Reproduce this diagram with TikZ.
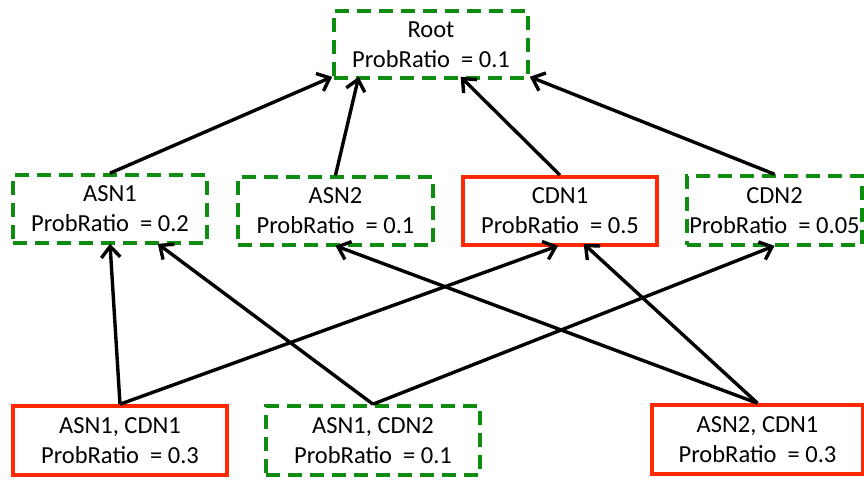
\documentclass[tikz,border=0pt]{standalone}
\usepackage{fontspec}
\setmainfont{Carlito}
\usetikzlibrary{arrows.meta,calc}

\definecolor{boxgreen}{RGB}{16,140,16}
\definecolor{boxred}{RGB}{255,40,0}

\tikzset{
  prob/.style={rectangle, inner sep=0pt, align=center,
    font=\fontsize{24.5}{30}\selectfont, text=black},
  okbox/.style={prob, draw=boxgreen, line width=3.6pt,
    dash pattern=on 14pt off 8pt},
  hotbox/.style={prob, draw=boxred, line width=3.6pt},
  link/.style={draw=black, line width=3.4pt,
    -{Straight Barb[length=11pt,width=19pt]}},
}

\begin{document}
\begin{tikzpicture}[x=1pt,y=-1pt]
\useasboundingbox (0,0) rectangle (864,479);

% top level
\node[okbox, minimum width=194pt, minimum height=67pt] (root) at (431,44.5)
  {Root\\ProbRatio\ \ = 0.1};

% middle level
\node[okbox, minimum width=194pt, minimum height=68pt] (asn1) at (110,209)
  {ASN1\\ProbRatio\ \ = 0.2};
\node[okbox, minimum width=195pt, minimum height=68pt] (asn2) at (335.5,211)
  {ASN2\\ProbRatio\ \ = 0.1};
\node[hotbox, minimum width=194pt, minimum height=68pt] (cdn1) at (560,211)
  {CDN1\\ProbRatio\ \ = 0.5};
\node[okbox, minimum width=175pt, minimum height=69pt] (cdn2) at (774.5,210.5)
  {CDN2\\ProbRatio\ \ = 0.05};

% bottom level
\node[hotbox, minimum width=214pt, minimum height=69pt] (ac1) at (120,440.5)
  {ASN1, CDN1\\ProbRatio\ \ = 0.3};
\node[okbox, minimum width=214pt, minimum height=69pt] (ac2) at (373,440.5)
  {ASN1, CDN2\\ProbRatio\ \ = 0.1};
\node[hotbox, minimum width=211pt, minimum height=69pt] (ac3) at (757.5,439.5)
  {ASN2, CDN1\\ProbRatio\ \ = 0.3};

% arrow targets along the lower edges
\coordinate (rA) at ($(root.south west)!0!(root.south east)+(0,-3)$);
\coordinate (rB) at ($(root.south west)!0.134!(root.south east)+(0,-3)$);
\coordinate (rC) at ($(root.south west)!0.65!(root.south east)+(0,-3)$);
\coordinate (rD) at ($(root.south west)!1!(root.south east)+(0,-3)$);
\coordinate (a1A) at ($(asn1.south)+(0,-1)$);
\coordinate (a1B) at ($(asn1.south west)!0.742!(asn1.south east)+(0,-1)$);
\coordinate (a2A) at ($(asn2.south)+(0,-1)$);
\coordinate (c1A) at ($(cdn1.south west)!0.49!(cdn1.south east)+(0,-1)$);
\coordinate (c1B) at ($(cdn1.south west)!0.62!(cdn1.south east)+(0,-3)$);
\coordinate (c2A) at ($(cdn2.south)+(0,-1)$);

% middle to top
\draw[link] (asn1.north) -- (rA);
\draw[link] (asn2.north) -- (rB);
\draw[link] (cdn1.north) -- (rC);
\draw[link] (cdn2.north) -- (rD);

% bottom to middle
\draw[link] (ac1.north) -- (a1A);
\draw[link] (ac1.north) -- (c1A);
\draw[link] (ac2.north) -- (a1B);
\draw[link] (ac2.north) -- (c2A);
\draw[link] (ac3.north) -- (a2A);
\draw[link] (ac3.north) -- (c1B);
\end{tikzpicture}
\end{document}
